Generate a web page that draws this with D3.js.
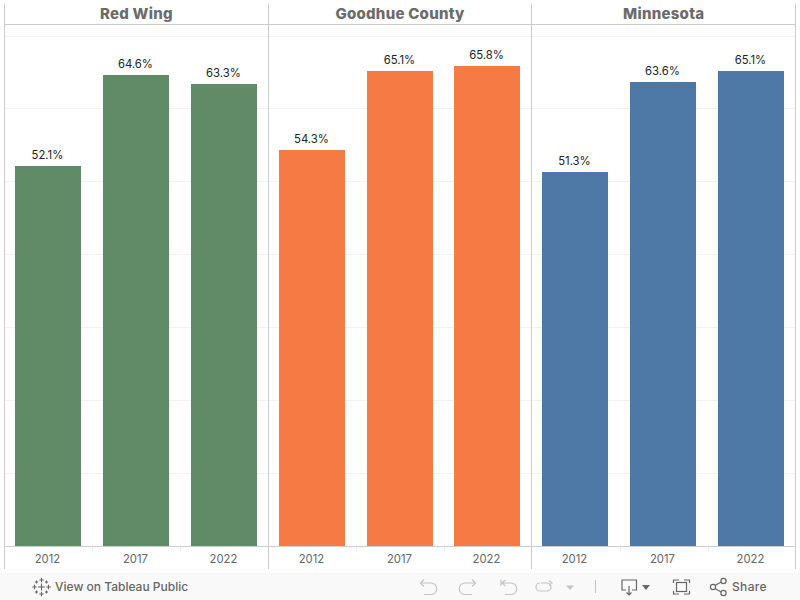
<!DOCTYPE html>
<html><head><meta charset="utf-8">
<script src="https://cdn.jsdelivr.net/npm/d3@7/dist/d3.min.js"></script>
<style>html,body{margin:0;padding:0;background:#fff}svg{display:block}text{font-family:Inter,"Open Sans",sans-serif}</style>
</head><body><svg id="c" width="800" height="600"></svg>
<script>
const panels = ["Red Wing","Goodhue County","Minnesota"];
const years = ["2012","2017","2022"];
const redWing = [52.1,64.6,63.3];
const goodhue = [54.3,65.1,65.8];
const minnesota = [51.3,63.6,65.1];
const colors = ["#618a66","#f57a43","#4e79a7"];
const gridTicks = [0,10,20,30,40,50,60,70];
const seriesList = [redWing,goodhue,minnesota];

const svg = d3.select("#c");
const fx = d3.scaleBand().domain(panels).range([4.5,795.5]);
const x = d3.scaleBand().domain(years).range([0,fx.bandwidth()]).paddingInner(0.25).paddingOuter(0.125);
const y = d3.scaleLinear().domain([0,70]).range([546,35.5]);

// grid
svg.append("g").selectAll("line").data(gridTicks.slice(1)).join("line")
  .attr("x1",4.5).attr("x2",795.5).attr("y1",d=>Math.round(y(d))+.5).attr("y2",d=>Math.round(y(d))+.5)
  .attr("stroke","#f2f2f2");

// bars, labels, ticks
panels.forEach((p,i)=>{
  const g = svg.append("g");
  const barX = yr=>Math.floor(fx(p)+x(yr));
  const rows = years.map((yr,j)=>({yr,v:seriesList[i][j]}));
  g.selectAll("rect").data(rows).join("rect")
    .attr("x",d=>barX(d.yr)).attr("width",Math.round(x.bandwidth()))
    .attr("y",d=>Math.round(y(d.v))).attr("height",d=>y(0)-Math.round(y(d.v))).attr("fill",colors[i]);
  g.selectAll("text.v").data(rows).join("text").attr("class","v")
    .attr("x",d=>barX(d.yr)+x.bandwidth()/2-.5).attr("y",d=>y(d.v)-7)
    .attr("text-anchor","middle").attr("font-size",11.3).attr("fill","#222")
    .text(d=>d.v.toFixed(1)+"%");
  g.selectAll("text.y").data(rows).join("text").attr("class","y")
    .attr("x",d=>barX(d.yr)+x.bandwidth()/2-.5).attr("y",563)
    .attr("text-anchor","middle").attr("font-size",11.3).attr("fill","#666")
    .text(d=>d.yr);
  g.selectAll("line.sep").data(years.slice(1)).join("line").attr("class","sep")
    .attr("x1",d=>Math.round(fx(p)+x(d)-x.step()*x.paddingInner()/2)+.5)
    .attr("x2",d=>Math.round(fx(p)+x(d)-x.step()*x.paddingInner()/2)+.5)
    .attr("y1",546).attr("y2",551).attr("stroke","#eeeeee");
  g.append("text").attr("x",fx(p)+fx.bandwidth()/2).attr("y",19).attr("text-anchor","middle")
    .attr("font-size",15).attr("font-weight",800).attr("letter-spacing",0.25).attr("fill","#6b6b6b").text(p);
});

// frame
const line = "#cccccc";
svg.append("line").attr("x1",4.5).attr("x2",795.5).attr("y1",24.5).attr("y2",24.5).attr("stroke",line);
svg.append("line").attr("x1",4.5).attr("x2",795.5).attr("y1",546.5).attr("y2",546.5).attr("stroke",line);
const edges = panels.map(p=>fx(p)).concat([fx.range()[1]]);
svg.append("g").selectAll("line").data(edges).join("line")
  .attr("x1",d=>Math.round(d-.5)+.5).attr("x2",d=>Math.round(d-.5)+.5).attr("y1",4).attr("y2",569).attr("stroke",line);

// toolbar
const tb = svg.append("g");
tb.append("rect").attr("x",0).attr("y",573).attr("width",800).attr("height",27).attr("fill","#f9f9f9");
const iconDark="#666", iconLight="#c4c4c4";
// Tableau logo
const logo = tb.append("g").attr("stroke",iconDark).attr("stroke-width",1.1).attr("fill","none");
[[41.5,587,3.5],[41.5,580,2.2],[41.5,594,2.2],[34.5,587,2.2],[48.5,587,2.2],[36.5,582,1.6],[46.5,582,1.6],[36.5,592,1.6],[46.5,592,1.6]].forEach(([cx,cy,r])=>{
  logo.append("path").attr("d",`M${cx-r} ${cy}H${cx+r}M${cx} ${cy-r}V${cy+r}`);
});
tb.append("text").attr("x",55).attr("y",591).attr("font-size",12).attr("font-weight",500).attr("fill","#666").text("View on Tableau Public");
const ic = (d,c)=>tb.append("path").attr("d",d).attr("fill","none").attr("stroke",c).attr("stroke-width",1.2);
ic("M421 583H431a5 5 0 0 1 0 11.5H424M424 579.5L420.5 583L424 586.5",iconLight);
ic("M475 583H465a5 5 0 0 0 0 11.5H472M472 579.5L475.5 583L472 586.5",iconLight);
ic("M502 583H511a5 5 0 0 1 0 11.5H505M505.5 580L502 583L505.5 586M501 579.5V586",iconLight);
ic("M541 583H547a4 4 0 0 1 0 8H540a4 4 0 0 1 0-8M549 580.5L552 583L549 585.5",iconLight);
tb.append("path").attr("d","M566 585.5H574L570 590Z").attr("fill",iconLight);
tb.append("line").attr("x1",595.5).attr("x2",595.5).attr("y1",580).attr("y2",593).attr("stroke","#c4c4c4");
ic("M626 590H622V580H636.5V590H632M629 586V595M626.5 592.5L629 595L631.5 592.5",iconDark);
tb.append("path").attr("d","M642 585H650L646 590Z").attr("fill",iconDark);
ic("M673.5 583V580H679M684 580H689.5V583M689.5 591V594H684M679 594H673.5V591",iconDark);
tb.append("rect").attr("x",676.5).attr("y",582.5).attr("width",10).attr("height",9).attr("fill","none").attr("stroke",iconDark).attr("stroke-width",1.2);
ic("M715 585.5L722 581.5M715 588.5L722 592.5",iconDark);
[[713,587,2.6],[723.5,581,2.6],[723.5,593,2.6]].forEach(([cx,cy,r])=>tb.append("circle").attr("cx",cx).attr("cy",cy).attr("r",r).attr("fill","#f9f9f9").attr("stroke",iconDark).attr("stroke-width",1.2));
tb.append("text").attr("x",732).attr("y",591).attr("font-size",12).attr("font-weight",500).attr("letter-spacing",0.35).attr("fill","#666").text("Share");
</script></body></html>
